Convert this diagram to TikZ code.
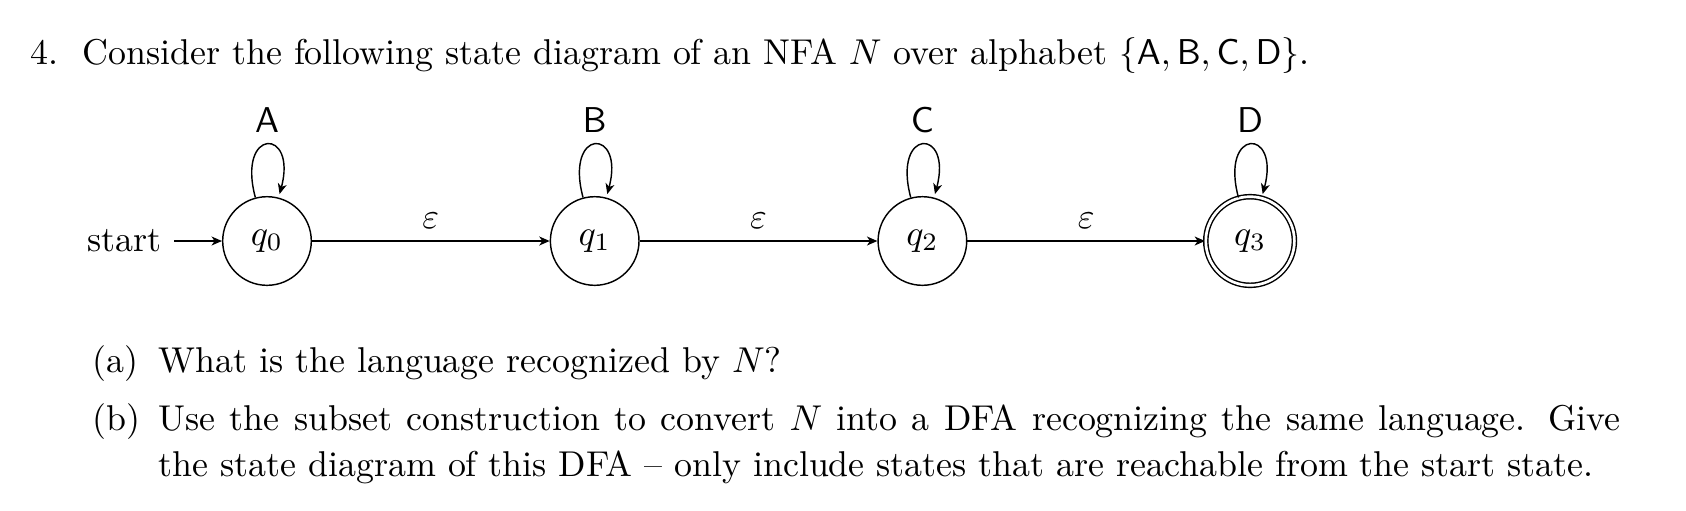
\documentclass[tikz,border=0pt]{standalone}
\usetikzlibrary{automata,arrows.meta}
\begin{document}
\begin{tikzpicture}[x=0.2787pt,y=0.2787pt,
  >={Stealth[length=2.9pt,width=2.5pt,inset=0.85pt]},
  st/.style={circle,draw,minimum size=24.7pt,inner sep=0pt},
  acc/.style={st,double,double distance=0.75pt},
  txt/.style={inner sep=0pt,anchor=base west},
  lp/.style={loop above,->},
  ep/.style={->}]
\useasboundingbox (0,0) rectangle (1686,-510);
% heading
\node[txt] (num) at (30,-64) {4.};
\node[txt] (title) at (81.7,-64) {Consider the following state diagram of an NFA $N$ over alphabet $\{\mathsf{A},\mathsf{B},\mathsf{C},\mathsf{D}\}$.};
% automaton
\node[st] (q0) at (267,-241) {$q_0$};
\node[st] (q1) at (594.7,-241) {$q_1$};
\node[st] (q2) at (922.4,-241) {$q_2$};
\node[acc] (q3) at (1250.1,-241) {$q_3$};
\node (start) at (124.5,-241) {start};
\draw[->] (start) -- (q0);
\path (q0) edge[lp] node[above] {$\mathsf{A}$} ();
\path (q1) edge[lp] node[above] {$\mathsf{B}$} ();
\path (q2) edge[lp] node[above] {$\mathsf{C}$} ();
\path (q3) edge[lp] node[above] {$\mathsf{D}$} ();
\path (q0) edge[ep] node[above] {$\varepsilon$} (q1);
\path (q1) edge[ep] node[above] {$\varepsilon$} (q2);
\path (q2) edge[ep] node[above] {$\varepsilon$} (q3);
% questions
\node[txt] (la) at (92,-372.7) {(a)};
\node[txt] (ta) at (158,-372.7) {What is the language recognized by $N$?};
\node[txt] (lb) at (92,-430) {(b)};
\node[txt] (tb) at (158,-430) {\parbox[t]{407.5pt}{\baselineskip=13pt Use the subset construction to convert $N$ into a DFA recognizing the same language. Give\linebreak the state diagram of this DFA -- only include states that are reachable from the start state.}};
\end{tikzpicture}
\end{document}
